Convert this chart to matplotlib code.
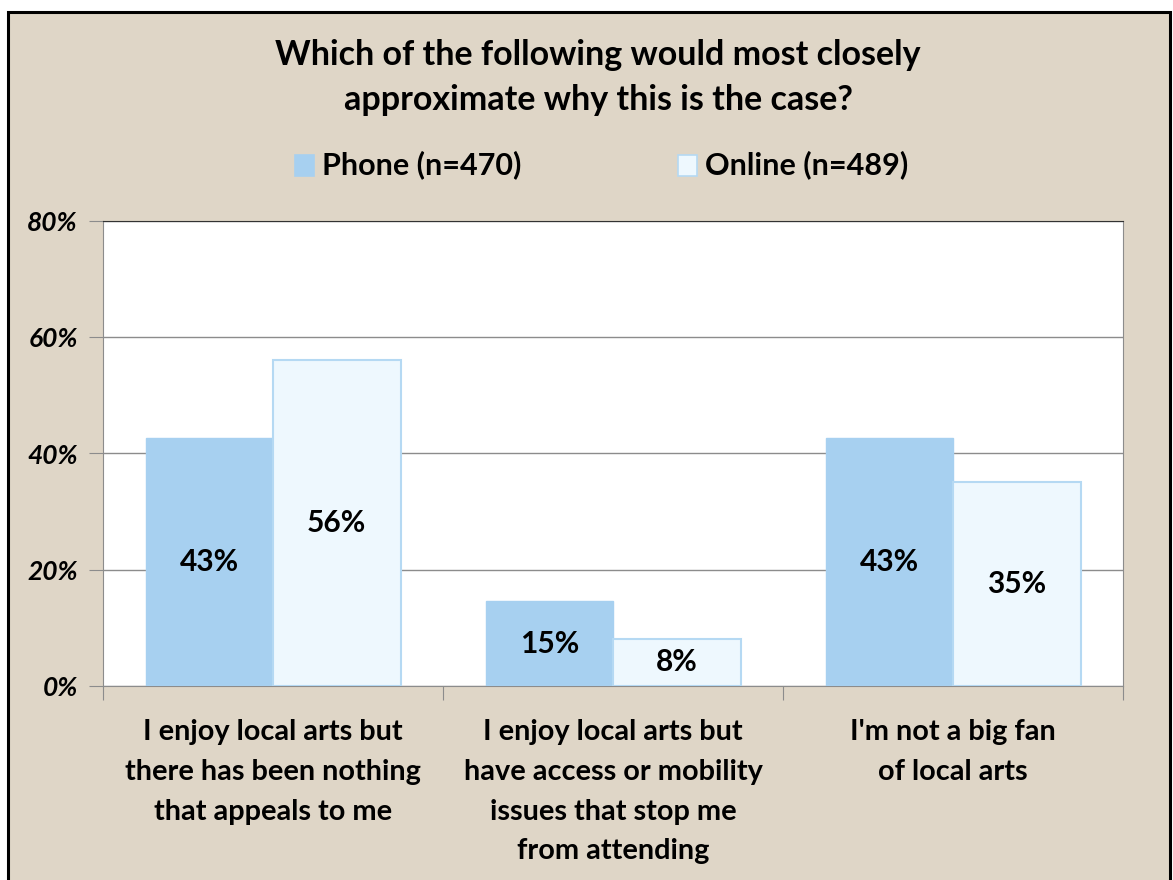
import matplotlib.pyplot as plt
import numpy as np
from matplotlib.patches import Rectangle

categories = ["I enjoy local arts but\nthere has been nothing\nthat appeals to me",
              "I enjoy local arts but\nhave access or mobility\nissues that stop me\nfrom attending",
              "I'm not a big fan\nof local arts"]
phone = [42.6, 14.6, 42.7]
online = [56.1, 8.1, 35.1]
series_names = ["Phone (n=470)", "Online (n=489)"]
y_ticks = [0, 20, 40, 60, 80]

bg = "#DFD6C7"
phone_col = "#A7D0F0"
online_col = "#EEF8FE"

plt.rcParams['font.family'] = ['Lato', 'DejaVu Sans']

W, H = 1173, 880
fig = plt.figure(figsize=(W / 100, H / 100), dpi=100, facecolor="white")

# beige panel with black frame, open at the bottom edge
frame = Rectangle((8 / W, -0.01), (1170 - 8) / W, (H - 12) / H + 0.01,
                  transform=fig.transFigure, facecolor=bg, edgecolor="black",
                  linewidth=2.2, zorder=-5)
fig.patches.append(frame)

left, right, top, bottom = 103, 1123, 221, 686
ax = fig.add_axes([left / W, 1 - bottom / H, (right - left) / W, (bottom - top) / H])
ax.set_facecolor("white")

x = np.arange(len(categories))
w = 0.375
b1 = ax.bar(x - w / 2, phone, w, color=phone_col, edgecolor=phone_col, linewidth=1, zorder=3)
b2 = ax.bar(x + w / 2, online, w, color=online_col, edgecolor="#B5D9F3", linewidth=1.5, zorder=3)

for bars, vals in ((b1, phone), (b2, online)):
    for rect, v in zip(bars, vals):
        ax.text(rect.get_x() + rect.get_width() / 2, v / 2, f"{v:.0f}%",
                ha="center", va="center", fontsize=21.5, fontweight="bold", zorder=4)

ax.set_xlim(-0.5, 2.5)
ax.set_ylim(0, 80)
ax.set_yticks(y_ticks)
ax.set_yticklabels([f"{t}%" for t in y_ticks], fontsize=19, fontweight="bold", style="italic")
ax.yaxis.grid(True, color="#8C8C8C", linewidth=1, zorder=1)
ax.tick_params(axis="y", length=10, color="#8C8C8C", pad=8)

ax.set_xticks([-0.5, 0.5, 1.5, 2.5])
ax.set_xticklabels([])
ax.set_xticks(x, minor=True)
ax.set_xticklabels(categories, minor=True, fontsize=20.8, fontweight="bold", linespacing=1.65, va="top")
ax.tick_params(axis="x", which="major", length=10, color="#8C8C8C", direction="out")
ax.tick_params(axis="x", which="minor", length=0, pad=24)

for s in ("left", "bottom"):
    ax.spines[s].set_color("#8C8C8C")
ax.spines["top"].set_color("#333333")
ax.spines["right"].set_color("#8C8C8C")

fig.text(598 / W, 1 - 55 / H, "Which of the following would most closely", ha="center", va="center",
         fontsize=24.5, fontweight="bold")
fig.text(598 / W, 1 - 100 / H, "approximate why this is the case?", ha="center", va="center",
         fontsize=24.5, fontweight="bold")

# legend
for sx, name, fc, ec in ((295, series_names[0], phone_col, phone_col),
                         (678, series_names[1], online_col, "#B5D9F3")):
    fig.patches.append(Rectangle((sx / W, 1 - 176 / H), 19 / W, 21 / H, transform=fig.transFigure,
                                 facecolor=fc, edgecolor=ec, linewidth=1.2))
    fig.text((sx + 27) / W, 1 - 165 / H, name, ha="left", va="center", fontsize=22, fontweight="bold")

fig.savefig("out.png", dpi=100, facecolor="white")
